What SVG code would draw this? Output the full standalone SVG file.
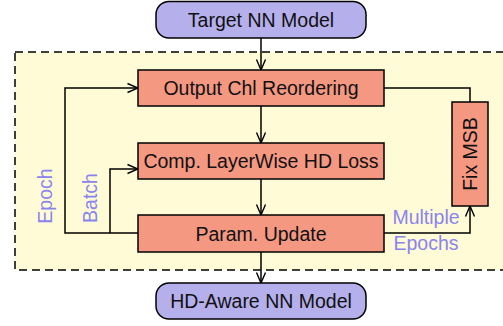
<svg xmlns="http://www.w3.org/2000/svg" width="503" height="326" viewBox="0 0 503 326">
<defs>
<marker id="arr" viewBox="0 0 12 12" refX="11" refY="6" markerWidth="12" markerHeight="12" markerUnits="userSpaceOnUse" orient="auto">
<polyline points="0.5,1.5 11,6 0.5,10.5" fill="none" stroke="#000" stroke-width="1.4"/>
</marker>
<style>
.term{fill:#b5b0ec;stroke:#000;stroke-width:1.5}
.proc{fill:#f59882;stroke:#000;stroke-width:1.5}
.t{font-family:"Liberation Sans",Arial,sans-serif;font-size:19.5px;fill:#111;text-anchor:middle;dominant-baseline:central}
.lab{font-family:"Liberation Sans",Arial,sans-serif;font-size:19.5px;fill:#8a84ef;text-anchor:middle;dominant-baseline:central}
.c{fill:none;stroke:#000;stroke-width:1.5}
</style>
</defs>
<rect id="loop-region" x="15" y="52" width="495" height="218" fill="#fefbd6" stroke="#000" stroke-width="1.5" stroke-dasharray="8,5"/>
<g id="connectors">
<line class="c" x1="261" y1="38" x2="261" y2="70" marker-end="url(#arr)"/>
<line class="c" x1="261" y1="106" x2="261" y2="143" marker-end="url(#arr)"/>
<line class="c" x1="261" y1="179" x2="261" y2="215" marker-end="url(#arr)"/>
<line class="c" x1="261" y1="252" x2="261" y2="283" marker-end="url(#arr)"/>
<polyline class="c" points="384,88 470,88 470,102"/>
<polyline class="c" points="384,233 470,233 470,206" marker-end="url(#arr)"/>
<polyline class="c" points="138,233 65,233 65,88 138,88" marker-end="url(#arr)"/>
<polyline class="c" points="110,233 110,169 138,169" marker-end="url(#arr)"/>
</g>
<g id="target">
<rect class="term" x="156" y="1.5" width="210" height="36.5" rx="13"/>
<text class="t" x="261" y="20">Target NN Model</text>
</g>
<g id="reorder">
<rect class="proc" x="138" y="70" width="246" height="36"/>
<text class="t" x="261" y="88">Output Chl Reordering</text>
</g>
<g id="loss">
<rect class="proc" x="138" y="143" width="246" height="36"/>
<text class="t" x="261" y="161">Comp. LayerWise HD Loss</text>
</g>
<g id="update">
<rect class="proc" x="138" y="215" width="246" height="37"/>
<text class="t" x="261" y="233.5">Param. Update</text>
</g>
<g id="fixmsb">
<rect class="proc" x="452" y="102" width="36" height="104"/>
<text class="t" transform="translate(470,154) rotate(-90)">Fix MSB</text>
</g>
<g id="output">
<rect class="term" x="156" y="283" width="210" height="36" rx="13"/>
<text class="t" x="261" y="301">HD-Aware NN Model</text>
</g>
<g id="labels">
<text class="lab" transform="translate(45,196) rotate(-90)">Epoch</text>
<text class="lab" transform="translate(90,198) rotate(-90)">Batch</text>
<text class="lab" x="426" y="217">Multiple</text>
<text class="lab" x="426" y="243">Epochs</text>
</g>
</svg>
